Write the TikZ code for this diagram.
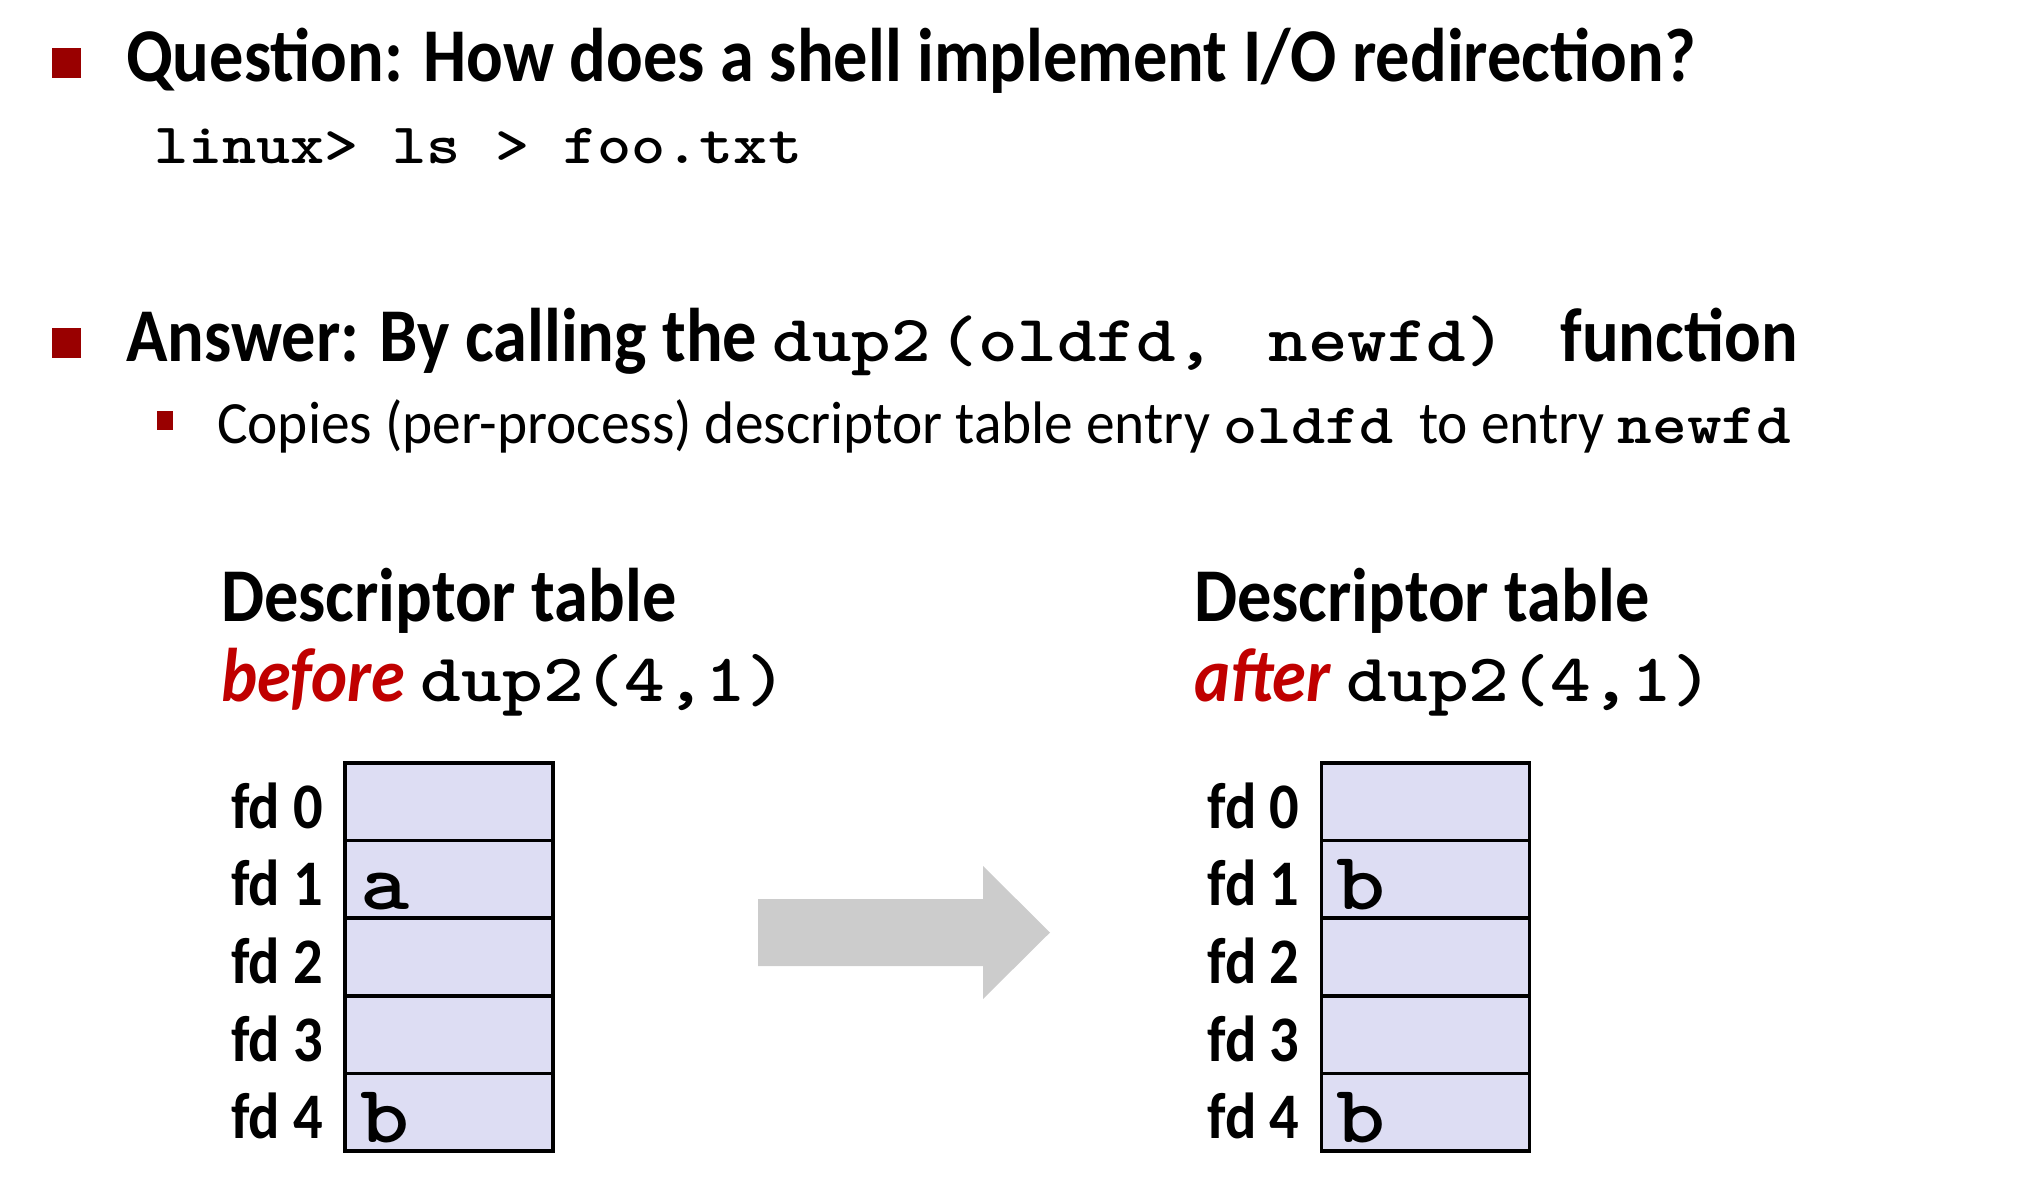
\documentclass[tikz,border=0pt]{standalone}
\usepackage{fontspec}
\setmainfont{Carlito}[FakeStretch=0.9]
\newfontfamily\subfont{Carlito}[FakeStretch=0.957]
\newfontfamily\codefont{lmmonolt10-bold.otf}[FakeStretch=1.14]
\definecolor{bulletred}{HTML}{990000}
\definecolor{wordred}{HTML}{C00000}
\definecolor{cellfill}{HTML}{DDDDF3}
\definecolor{arrowgray}{HTML}{CCCCCC}
\newcommand{\code}[1]{{\codefont #1}}
\tikzset{
  bulletbox/.style={fill=bulletred, inner sep=0pt, minimum width=29pt, minimum height=30pt},
  subbullet/.style={fill=bulletred, inner sep=0pt, minimum width=16pt, minimum height=19pt},
  txt/.style={anchor=base west, inner sep=0pt, outer sep=0pt},
  cell/.style={draw=black, line width=3.5pt, fill=cellfill, minimum width=208pt, minimum height=77.6pt, inner sep=0pt},
  fdlabel/.style={anchor=base east, inner sep=0pt, font=\fontsize{65}{70}\selectfont\bfseries},
  entry/.style={anchor=base west, inner sep=0pt, font=\fontsize{82}{90}\selectfont\codefont},
}
\begin{document}
\begin{tikzpicture}[x=1pt,y=-1pt]
\useasboundingbox (0,0) rectangle (2042,1191);
% bullets
\node[bulletbox] (b1) at (66.5,63) {};
\node[txt] (q) at (126,81) {\fontsize{76}{90}\selectfont\bfseries Question: How does a shell implement I/O redirection?};
\node[txt] (cmd) at (154,163) {\fontsize{57}{60}\selectfont\code{linux> ls > foo.txt}};
\node[bulletbox] (b2) at (66.5,343) {};
\node[txt] (ans) at (126,361) {\fontsize{76}{90}\selectfont\bfseries Answer: By calling the \fontsize{66}{70}\selectfont\code{dup2\hspace{8pt}(oldfd,\hspace{14pt}~newfd)~}\fontsize{76}{90}\selectfont\ function};
\node[subbullet] (b3) at (164.5,420) {};
\node[txt] (sub) at (217,443) {\fontsize{60}{70}\selectfont\subfont Copies (per-process) descriptor table entry \fontsize{57}{60}\selectfont\code{oldfd}\hspace{13pt} \fontsize{60}{70}\selectfont to entry \fontsize{58}{60}\selectfont\code{newfd}};
% headers
\node[txt] (h1a) at (221,621) {\fontsize{76}{80}\selectfont\bfseries Descriptor table};
\node[txt] (h1b) at (221,701) {\fontsize{76}{80}\selectfont\bfseries\itshape\color{wordred}before\/ \fontsize{68}{70}\selectfont\upshape\color{black}\code{dup2(4,1)}};
\node[txt] (h2a) at (1194,621) {\fontsize{76}{80}\selectfont\bfseries Descriptor table};
\node[txt] (h2b) at (1194,701) {\fontsize{76}{80}\selectfont\bfseries\itshape\color{wordred}after\/ \fontsize{68}{70}\selectfont\upshape\color{black}\code{dup2(4,1)}};
% tables
\foreach \i in {0,...,4} {
  \node[cell] (L\i) at (449,{763+38.8+77.6*\i}) {};
  \node[fdlabel, xshift=-20pt, yshift=14pt] (Lf\i) at (L\i.south west) {fd \i};
  \node[cell] (R\i) at (1425.5,{763+38.8+77.6*\i}) {};
  \node[fdlabel, xshift=-20pt, yshift=14pt] (Rf\i) at (R\i.south west) {fd \i};
}
\node[entry, xshift=17pt, yshift=10pt] (La) at (L1.south west) {a};
\node[entry, xshift=17pt, yshift=10pt] (Lb) at (L4.south west) {b};
\node[entry, xshift=17pt, yshift=10pt] (Rb1) at (R1.south west) {b};
\node[entry, xshift=17pt, yshift=10pt] (Rb4) at (R4.south west) {b};
% big arrow
\fill[arrowgray] (758,899) -- (983,899) -- (983,866) -- (1050,932.5) -- (983,999) -- (983,966) -- (758,966) -- cycle;
\end{tikzpicture}
\end{document}
